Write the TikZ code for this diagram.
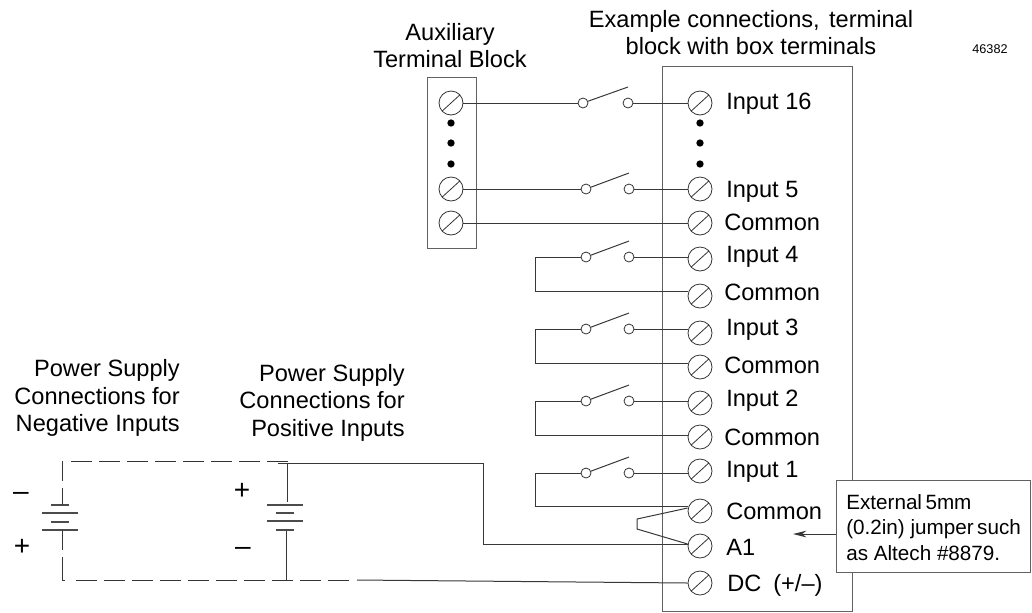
\documentclass[tikz,border=0pt]{standalone}
\usepackage{fontspec}
\setmainfont{Liberation Sans}
\usetikzlibrary{arrows.meta}
\tikzset{
  x=0.75pt,y=-0.75pt,
  wire/.style={draw=black!78,line width=0.75pt},
  frame/.style={draw=black!62,line width=0.7pt},
  plate/.style={draw=black!70,line width=0.8pt},
  dash wire/.style={draw=black!80,line width=0.75pt,dash pattern=on 16pt off 5pt},
  screw/.style={circle,draw=black!80,line width=0.6pt,minimum size=18pt,inner sep=0pt,
    path picture={\draw[black!80,line width=0.6pt] ([xshift=2.2pt,yshift=2.8pt]path picture bounding box.south west) -- ([xshift=-2.2pt,yshift=-2.8pt]path picture bounding box.north east);}},
  contact/.style={circle,draw=black!80,line width=0.6pt,minimum size=7.5pt,inner sep=0pt,fill=white},
  bullet/.style={circle,fill=black,minimum size=5.5pt,inner sep=0pt},
  lab/.style={anchor=base west,inner sep=0pt,font=\fontsize{17.7}{20}\selectfont},
  ctr/.style={align=center,inner sep=0pt,font=\fontsize{17.7}{20.3}\selectfont},
  rgt/.style={align=right,anchor=east,inner sep=0pt,font=\fontsize{17.7}{20.6}\selectfont},
  sign/.style={inner sep=0pt,font=\fontsize{21}{21}\selectfont},
}
\begin{document}
\begin{tikzpicture}
\useasboundingbox (0,0) rectangle (1032,612);
% frames
\draw[frame] (427,77) rectangle (476,248);
\draw[frame] (662,66) rectangle (852,611);
% screws aux
\node[screw] (a16) at (451,103) {};
\node[screw] (a5) at (451,189) {};
\node[screw] (ac) at (451,223) {};
% screws main
\node[screw] (i16) at (700,103) {};
\node[screw] (i5) at (700,189) {};
\node[screw] (c5) at (700,223) {};
\node[screw] (i4) at (700,259) {};
\node[screw] (c4) at (700,296) {};
\node[screw] (i3) at (700,333) {};
\node[screw] (c3) at (700,367) {};
\node[screw] (i2) at (700,403) {};
\node[screw] (c2) at (700,437) {};
\node[screw] (i1) at (700,471) {};
\node[screw] (c1) at (700,511) {};
\node[screw] (ia) at (700,546) {};
\node[screw] (dc) at (700,583) {};
% dots
\foreach \n/\y in {p/123,q/143,r/164}{
  \node[bullet] (aux\n) at (451,\y) {};
  \node[bullet] (main\n) at (700,\y) {};
}
% switches
\foreach \n/\xa/\xb/\y in {s/583/628/103,t/586/629/189,u/586/629/257,v/586/629/329,w/586/629/401,z/586/629/473}{
  \node[contact] (\n l) at (\xa,\y) {};
  \node[contact] (\n r) at (\xb,\y) {};
  \coordinate (\n b) at ([yshift=12pt]\xb,\y);
  \draw[wire] (\n l) -- (\n b);
}
\draw[wire] (a16) -- (sl);
\draw[wire] (sr) -- (i16);
\draw[wire] (a5) -- (tl);
\draw[wire] (tr) -- (i5);
\draw[wire] (ac) -- (c5);
\draw[wire] (ur) -- ([yshift=1.5pt]i4.west);
\draw[wire] (vr) -- ([yshift=3pt]i3.west);
\draw[wire] (wr) -- ([yshift=1.5pt]i2.west);
\draw[wire] (zr) -- ([yshift=-1.5pt]i1.west);
\draw[wire] (ul) -- (535,257) -- (535,291) -- ([yshift=3.75pt]c4.west);
\draw[wire] (vl) -- (535,329) -- (535,363) -- ([yshift=3pt]c3.west);
\draw[wire] (wl) -- (535,401) -- (535,435) -- ([yshift=1.5pt]c2.west);
\draw[wire] (zl) -- (535,473) -- (535,506) -- ([yshift=3.75pt]c1.west);
% jumper
\coordinate (j1) at (637,519);
\coordinate (j2) at (637,529);
\draw[wire] ([yshift=2.25pt]c1.west) -- (j1) -- (j2) -- ([yshift=1.5pt]ia.west);
% batteries
\draw[wire] (278,463) -- (483,463) -- (483,544) -- ([yshift=1.5pt]ia.west);
\draw[wire] (287,463) -- (287,502);
\draw[wire] (286,530) -- (286,581);
\foreach \a/\b/\y in {267/303/505,276/294/513,267/303/521,276/294/530,51/69/505,42/78/513,51/69/522,42/78/530}
  \draw[plate] (\a,\y) -- (\b,\y);
\draw[wire] (62,488) -- (62,505);
\draw[wire] (62,530) -- (62,550);
\draw[wire] (62,481) -- (62,461);
\draw[dash wire] (71,461) -- (289,461);
\draw[wire] (62,557) -- (62,580) -- (65,580);
\draw[dash wire] (76,580) -- (351,580);
\draw[wire] (357,580) -- (dc.west);
\node[sign] (m1) at (21,496) {–};
\node[sign] (p1) at (22,547) {+};
\node[sign] (p2) at (242,491) {+};
\node[sign] (m2) at (243,551) {–};
% callout
\node[draw=black!62,line width=0.7pt,fill=white,minimum width=145.5pt,minimum height=69pt,inner sep=0pt] (box) at (933,526) {};
\node[anchor=north west,align=left,inner sep=0pt,font=\fontsize{15.5}{19.1}\selectfont] (boxt) at (846,494) {External\,5mm\\(0.2in) jumper\,such\\as Altech \#8879.};
\coordinate (tip) at (793,534);
\draw[wire,-{Stealth[length=10pt,width=5pt,inset=3pt]}] (box.west|-tip) -- (tip);
% labels
\node[lab] (l1) at (726,109) {Input 16};
\node[lab] (l2) at (726,197) {Input 5};
\node[lab] (l3) at (724,230) {Common};
\node[lab] (l4) at (726,262) {Input 4};
\node[lab] (l5) at (724,300) {Common};
\node[lab] (l6) at (726,335) {Input 3};
\node[lab] (l7) at (724,373) {Common};
\node[lab] (l8) at (726,406) {Input 2};
\node[lab] (l9) at (724,445) {Common};
\node[lab] (l10) at (726,477) {Input 1};
\node[lab] (l11) at (726,519) {Common};
\node[lab] (l12) at (726,555) {A1};
\node[lab] (l13) at (727,591) {DC\hspace{9pt}(+/–)};
\node[ctr] (t1) at (450,45.5) {Auxiliary\\Terminal Block};
\node[ctr] (t2) at (751,32.5) {Example connections,\hspace{7pt}terminal\\block with box terminals};
\node[rgt] (t3) at (180,398) {Power Supply\\Connections for\\Negative Inputs};
\node[rgt] (t4) at (405,402.5) {Power Supply\\Connections for\\Positive Inputs};
\node[inner sep=0pt,font=\fontsize{9.5}{11}\selectfont] (t5) at (990,49) {46382};
\end{tikzpicture}
\end{document}
